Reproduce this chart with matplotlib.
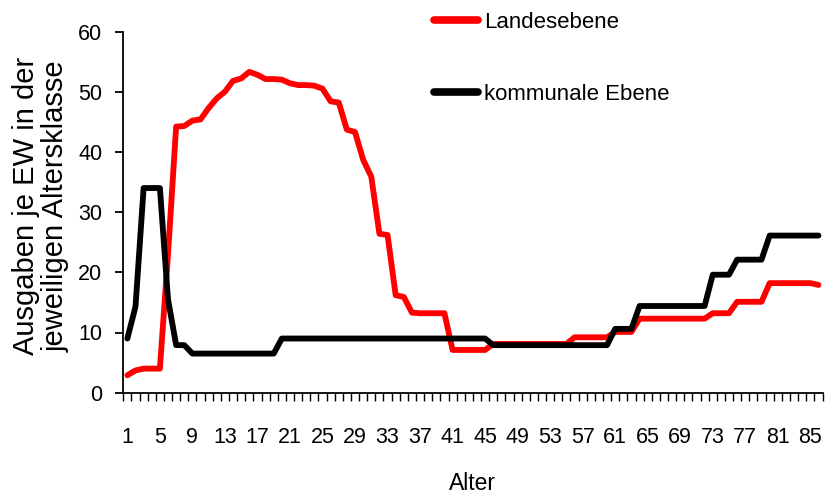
import matplotlib
matplotlib.use('Agg')
import matplotlib.pyplot as plt
from matplotlib import font_manager as fm
import numpy as np

# ---- data ----
ages = list(range(1, 87))
landesebene = [2.9, 3.7, 4.0, 4.0, 4.0, 23.0, 44.2, 44.3, 45.2, 45.4,
               47.3, 48.9, 50.0, 51.8, 52.2, 53.3, 52.8, 52.1, 52.1, 52.0,
               51.4, 51.1, 51.1, 51.0, 50.5, 48.4, 48.2, 43.7, 43.3, 38.7,
               35.9, 26.4, 26.2, 16.2, 15.9, 13.3, 13.2, 13.2, 13.2, 13.2,
               7.1, 7.1, 7.1, 7.1, 7.1, 8.1, 8.1, 8.1, 8.1, 8.1,
               8.1, 8.1, 8.1, 8.1, 8.1, 9.2, 9.2, 9.2, 9.2, 9.2,
               10.1, 10.1, 10.1, 12.3, 12.3, 12.3, 12.3, 12.3, 12.3, 12.3,
               12.3, 12.3, 13.2, 13.2, 13.2, 15.1, 15.1, 15.1, 15.1, 18.2,
               18.2, 18.2, 18.2, 18.2, 18.2, 17.9]
kommunal = [9.0, 14.3, 34.0, 34.0, 34.0, 15.5, 7.9, 7.9, 6.5, 6.5,
            6.5, 6.5, 6.5, 6.5, 6.5, 6.5, 6.5, 6.5, 6.5, 9.0,
            9.0, 9.0, 9.0, 9.0, 9.0, 9.0, 9.0, 9.0, 9.0, 9.0,
            9.0, 9.0, 9.0, 9.0, 9.0, 9.0, 9.0, 9.0, 9.0, 9.0,
            9.0, 9.0, 9.0, 9.0, 9.0, 7.9, 7.9, 7.9, 7.9, 7.9,
            7.9, 7.9, 7.9, 7.9, 7.9, 7.9, 7.9, 7.9, 7.9, 7.9,
            10.6, 10.6, 10.6, 14.4, 14.4, 14.4, 14.4, 14.4, 14.4, 14.4,
            14.4, 14.4, 19.6, 19.6, 19.6, 22.1, 22.1, 22.1, 22.1, 26.1,
            26.1, 26.1, 26.1, 26.1, 26.1, 26.1]
xtick_values = [1, 5, 9, 13, 17, 21, 25, 29, 33, 37, 41, 45, 49, 53, 57, 61, 65, 69, 73, 77, 81, 85]
xtick_labels = [str(v) for v in xtick_values]
yticks = [0, 10, 20, 30, 40, 50, 60]
series_names = ['Landesebene', 'kommunale Ebene']
y_title = 'Ausgaben je EW in der\njeweiligen Altersklasse'
x_title = 'Alter'

# ---- fonts ----
names = {f.name for f in fm.fontManager.ttflist}
base = 'Liberation Sans' if 'Liberation Sans' in names else 'DejaVu Sans'
plt.rcParams['font.family'] = [base, 'DejaVu Sans']

W, H = 826, 496
fig = plt.figure(figsize=(W / 100, H / 100), dpi=100)
left, right, top, bottom = 123.3, 822.5, 31.5, 392.7
ax = fig.add_axes([left / W, 1 - bottom / H, (right - left) / W, (bottom - top) / H])

ax.plot(ages, landesebene, color='#ff0000', lw=4.2, label=series_names[0],
        solid_joinstyle='round', solid_capstyle='round')
ax.plot(ages, kommunal, color='#000000', lw=4.2, label=series_names[1],
        solid_joinstyle='round', solid_capstyle='round')

ax.set_xlim(0.5, len(ages) + 0.5)
ax.set_ylim(0, 60)
for s in ['top', 'right']:
    ax.spines[s].set_visible(False)
for s in ['left', 'bottom']:
    ax.spines[s].set_linewidth(1.3)
    ax.spines[s].set_color('black')

ax.set_yticks(yticks)
ax.set_yticklabels([str(v) for v in yticks])
ax.tick_params(axis='y', direction='out', length=6, width=1.3, pad=9,
               labelsize=15.5, colors='black')

ax.set_xticks(np.arange(0.5, len(ages) + 1, 1.0))
ax.set_xticklabels([])
ax.tick_params(axis='x', which='major', direction='out', length=6, width=1.0)
ax.set_xticks(xtick_values, minor=True)
ax.set_xticklabels(xtick_labels, minor=True)
ax.tick_params(axis='x', which='minor', length=0, pad=25, labelsize=15.5)

fig.text(41 / W, 1 - 206 / H, y_title, rotation=90, ha='center', va='center',
         fontsize=21, linespacing=1.05, family=[base, 'DejaVu Sans'])
fig.text((left + right) / 2 / W, 1 - 484 / H, x_title, ha='center', va='center',
         fontsize=16.5, family=[base, 'DejaVu Sans'])

leg = ax.legend(loc='upper left', bbox_to_anchor=(434 / W, 1 - 12 / H),
                bbox_transform=fig.transFigure, frameon=False,
                handlelength=2.0, handletextpad=0.25, labelspacing=2.3,
                borderpad=0, borderaxespad=0,
                prop={'family': [base, 'DejaVu Sans'], 'size': 16})
for ln in leg.get_lines():
    ln.set_linewidth(5.5)
    ln.set_solid_capstyle('round')

fig.savefig('out.png', dpi=100)
